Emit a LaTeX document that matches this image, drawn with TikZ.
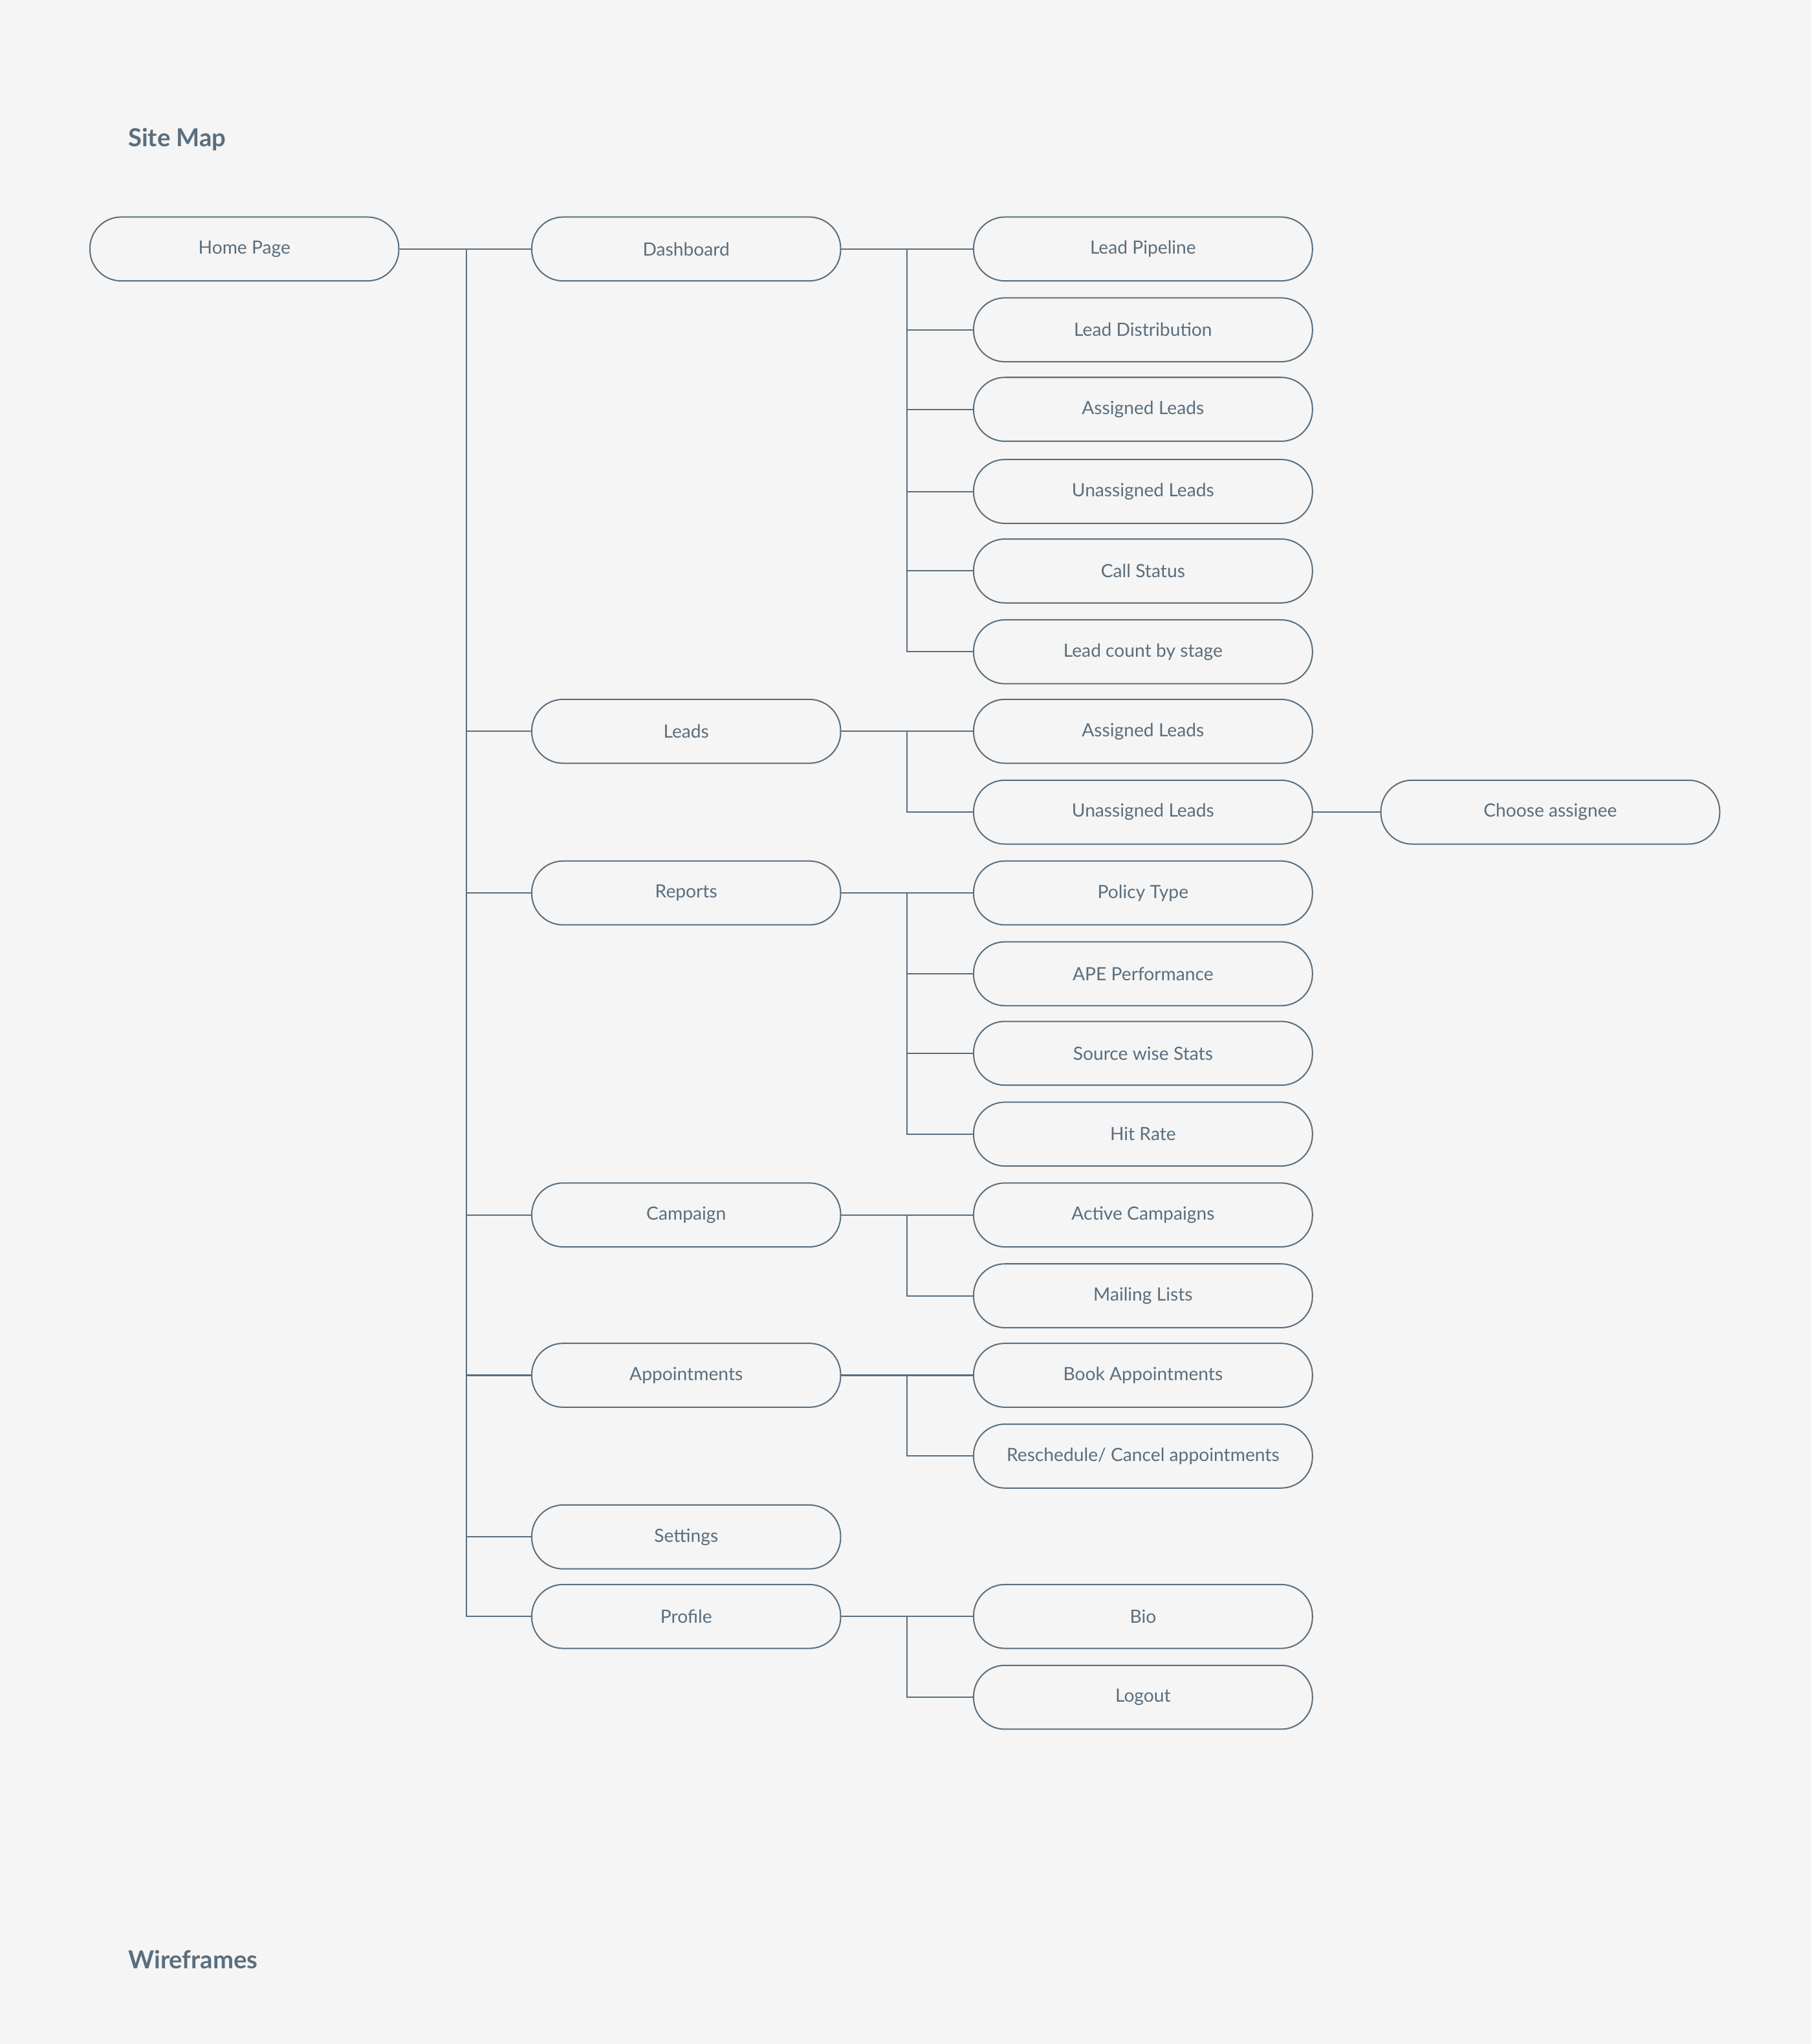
\documentclass[tikz,border=0pt]{standalone}
\usepackage{fontspec}
\setmainfont{Lato}
\begin{document}
\definecolor{ink}{HTML}{5A6E7E}
\definecolor{bg}{HTML}{F5F5F5}
\begin{tikzpicture}[x=0.5pt,y=-0.5pt,
  box/.style={draw=ink,line width=0.5pt,rounded corners=12pt,minimum height=24.5pt,text=ink,font=\fontsize{7}{8}\selectfont,inner sep=0pt},
  b1/.style={box,minimum width=118.5pt},
  b2/.style={box,minimum width=130pt},
  ttl/.style={text=ink,font=\bfseries\fontsize{9.5}{11}\selectfont,anchor=west,inner sep=0pt},
  ln/.style={draw=ink,line width=0.5pt}]
\fill[bg] (0,0) rectangle (1390,1568);
\useasboundingbox (0,0) rectangle (1390,1568);
\node[ttl] (t1) at (98,107) {Site Map};
\node[ttl] (t2) at (98,1503) {Wireframes};
\node[b1] (home) at (187.5,191) {Home Page};
\foreach \n/\y/\t in {dash/191/Dashboard,leads/561/Leads,rep/685/Reports,camp/932/Campaign,app/1055/Appointments,set/1179/Settings,prof/1240/Profile}
  \node[b1] (\n) at (526.5,\y) {\t};
\foreach \n/\y/\t in {a1/191/Lead Pipeline,a2/253/Lead Distribution,a3/314/Assigned Leads,a4/377/Unassigned Leads,a5/438/Call Status,a6/500/Lead count by stage,
  l1/561/Assigned Leads,l2/623/Unassigned Leads,r1/685/Policy Type,r2/747/APE Performance,r3/808/Source wise Stats,r4/870/Hit Rate,
  c1/932/Active Campaigns,c2/994/Mailing Lists,p1/1055/Book Appointments,f1/1240/Bio,f2/1302/Logout}
  \node[b2] (\n) at (877,\y) {\t};
\node[b2] (p2) at (877,1117) {Reschedule/ Cancel appointments};
\node[b2] (ch) at (1189.5,623) {Choose assignee};
\coordinate (tr) at (358,191);
\coordinate (vx) at (696,0);
\draw[ln] (home.east) -- (dash.west);
\draw[ln] (tr) |- (prof.west);
\foreach \n in {leads,rep,camp,app,set} \draw[ln] (tr |- \n.west) -- (\n.west);
\foreach \p/\f/\l in {dash/a1/a6,leads/l1/l2,rep/r1/r4,camp/c1/c2,app/p1/p2,prof/f1/f2}{
  \draw[ln] (\p.east) -- (\f.west);
  \draw[ln] (vx |- \p.east) |- (\l.west);
}
\foreach \k in {a2,a3,a4,a5,r2,r3} \draw[ln] (vx |- \k.west) -- (\k.west);
\draw[ln] (l2.east) -- (ch.west);
\end{tikzpicture}
\end{document}
